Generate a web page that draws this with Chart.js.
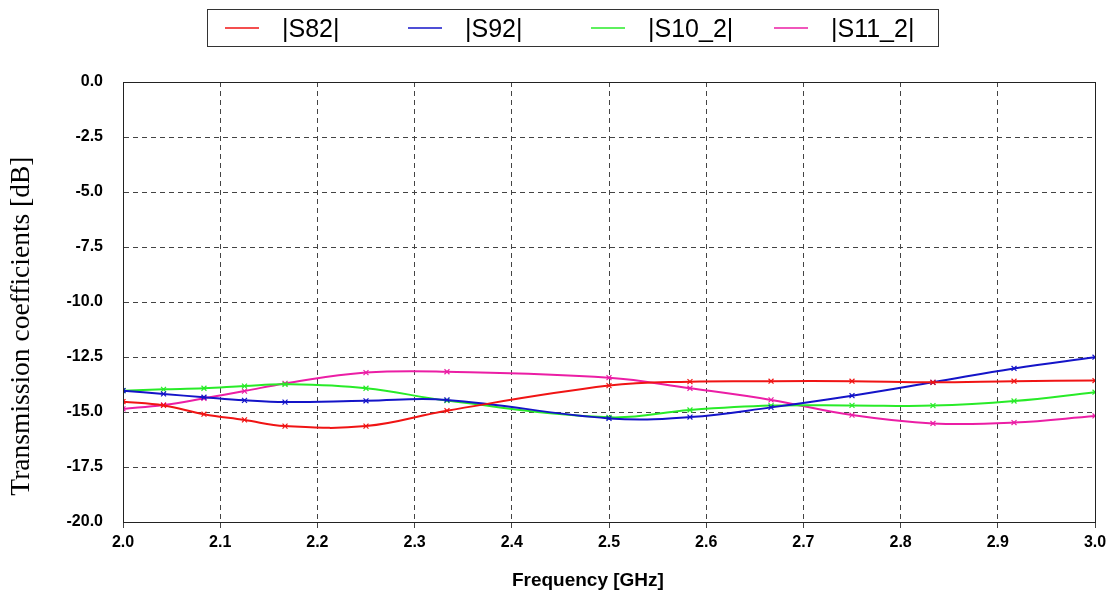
<!DOCTYPE html>
<html>
<head>
<meta charset="utf-8">
<script src="https://cdn.jsdelivr.net/npm/chart.js@4/dist/chart.umd.min.js"></script>
<style>
  html, body { margin: 0; padding: 0; background: #fff; }
  #wrap { width: 1120px; height: 594px; }
</style>
</head>
<body>
<div id="wrap"><canvas id="myChart" width="1120" height="594"></canvas></div>
<script>
// sweep frequencies (GHz) where the solver put its markers
var freq = [2.0, 2.0417, 2.0833, 2.125, 2.1667, 2.25, 2.3333, 2.5, 2.5833, 2.6667, 2.75, 2.8333, 2.9167, 3.0];

// values in dB
var s82   = [-14.53, -14.70, -15.10, -15.36, -15.64, -15.64, -14.94, -13.80, -13.62, -13.60, -13.60, -13.65, -13.60, -13.57];
var s92   = [-14.03, -14.18, -14.33, -14.47, -14.55, -14.49, -14.45, -15.29, -15.23, -14.79, -14.26, -13.65, -13.02, -12.51];
var s10_2 = [-14.03, -13.97, -13.92, -13.82, -13.74, -13.92, -14.48, -15.24, -14.91, -14.71, -14.70, -14.71, -14.50, -14.10];
var s11_2 = [-14.86, -14.68, -14.38, -14.05, -13.70, -13.21, -13.17, -13.44, -13.92, -14.45, -15.14, -15.52, -15.48, -15.18];

var seriesLabels = ['|S82|', '|S92|', '|S10_2|', '|S11_2|'];
var seriesColors = ['rgb(240, 20, 20)', 'rgb(20, 20, 200)', 'rgb(40, 235, 40)', 'rgb(235, 30, 165)'];

var xTicks = [2.0, 2.1, 2.2, 2.3, 2.4, 2.5, 2.6, 2.7, 2.8, 2.9, 3.0];
var yTicks = [0, -2.5, -5, -7.5, -10, -12.5, -15, -17.5, -20];

function points(vals) {
    return vals.map(function (v, i) { return { x: freq[i], y: v }; });
}

var allSeries = [s82, s92, s10_2, s11_2];
var datasets = allSeries.map(function (vals, i) {
    return {
        label: seriesLabels[i],
        data: points(vals),
        borderColor: seriesColors[i],
        backgroundColor: seriesColors[i],
        pointStyle: 'crossRot',
        pointRadius: 3.5,
        pointBorderWidth: 1.2,
        pointBorderColor: seriesColors[i],
        borderWidth: 2,
        tension: 0.4,
        fill: false
    };
});

// box around the plot plus a fixed-column legend like the original
var framePlugin = {
    id: 'frame',
    afterDraw: function (chart) {
        var c = chart.ctx, a = chart.chartArea;
        c.save();
        c.strokeStyle = '#222';
        c.lineWidth = 1;
        c.setLineDash([]);
        c.strokeRect(a.left + 0.5, a.top + 0.5, a.right - a.left, a.bottom - a.top);

        // legend
        c.strokeStyle = '#333';
        c.strokeRect(207.5, 9.5, 731, 37);
        c.font = '25px "Liberation Sans", Arial, sans-serif';
        c.textBaseline = 'middle';
        chart.data.datasets.forEach(function (ds, i) {
            var x0 = 225 + i * 183;
            c.strokeStyle = ds.borderColor;
            c.lineWidth = 1.5;
            c.beginPath();
            c.moveTo(x0, 28);
            c.lineTo(x0 + 34, 28);
            c.stroke();
            c.fillStyle = '#000';
            c.fillText(ds.label, x0 + 57, 30);
        });
        c.restore();
    }
};

var tickFont = { family: '"Liberation Sans", Arial, sans-serif', size: 16, weight: 'bold' };
// trailing spaces nudge the titles off-centre like the original
var pad = function (n) { return new Array(n + 1).join('\u00a0'); };

var ctx = document.getElementById('myChart').getContext('2d');
var myChart = new Chart(ctx, {
    type: 'line',
    data: { datasets: datasets },
    options: {
        responsive: false,
        animation: false,
        layout: { padding: { top: 82, right: 25, left: 0, bottom: 0 } },
        plugins: {
            legend: { display: false },
            tooltip: { enabled: false }
        },
        scales: {
            x: {
                type: 'linear',
                min: 2.0,
                max: 3.0,
                afterBuildTicks: function (scale) {
                    scale.ticks = xTicks.map(function (v) { return { value: v }; });
                },
                afterFit: function (scale) { scale.height = 72; },
                ticks: {
                    color: '#000',
                    font: tickFont,
                    padding: 5,
                    maxRotation: 0,
                    callback: function (v) { return v.toFixed(1); }
                },
                grid: {
                    color: '#444',
                    lineWidth: 1,
                    tickLength: 6,
                    tickColor: '#444',
                    tickBorderDash: []
                },
                //dashed grid lines
                border: { display: true, color: '#222', dash: [5, 4] },
                title: {
                    display: true,
                    text: 'Frequency [GHz]' + pad(8),
                    color: '#000',
                    font: { family: '"Liberation Sans", Arial, sans-serif', size: 19, weight: 'bold' },
                    padding: { top: 0, bottom: 2 }
                }
            },
            y: {
                min: -20,
                max: 0,
                afterBuildTicks: function (scale) {
                    scale.ticks = yTicks.map(function (v) { return { value: v }; });
                },
                afterFit: function (scale) { scale.width = 123; },
                ticks: {
                    color: '#000',
                    font: tickFont,
                    padding: 20,
                    callback: function (v) { return v.toFixed(1); }
                },
                grid: {
                    color: '#444',
                    lineWidth: 1,
                    drawTicks: false
                },
                border: { display: true, color: '#222', dash: [5, 4] },
                title: {
                    display: true,
                    text: 'Transmission coefficients [dB]' + pad(7),
                    color: '#000',
                    font: { family: '"Liberation Serif", "Times New Roman", serif', size: 27.5, weight: 'normal' },
                    padding: { top: 5, bottom: 0 }
                }
            }
        }
    },
    plugins: [framePlugin]
});
</script>
</body>
</html>
